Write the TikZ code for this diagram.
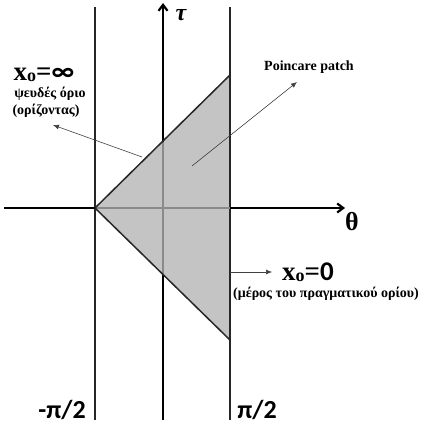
\documentclass[tikz,border=0pt]{standalone}
\usepackage{fontspec}
\setmainfont{Liberation Serif}
\newfontfamily\sansbold{Carlito}
\usetikzlibrary{arrows.meta,positioning}
\definecolor{patchgray}{HTML}{C4C4C4}
\definecolor{axisgray}{HTML}{8A8A8A}
\tikzset{
  boundary/.style={line width=1.5pt,draw=black!85},
  axisline/.style={-{Straight Barb[length=6pt,width=9pt]},line width=2.2pt},
  insideaxis/.style={line width=2pt,draw=axisgray},
  pointer/.style={-{Latex[length=6pt,width=5pt]},line width=0.6pt,draw=black!75},
  biglabel/.style={font=\bfseries\fontsize{27}{29}\selectfont,inner sep=0pt},
  smalllabel/.style={font=\bfseries\fontsize{14}{16}\selectfont,inner sep=0pt},
  endlabel/.style={font=\sansbold\bfseries\fontsize{26}{28}\selectfont,inner sep=0pt}
}
\newcommand{\xnought}{x\raisebox{-0.1ex}{\fontsize{18}{18}\selectfont o}}

\begin{document}
\begin{tikzpicture}[x=1pt,y=-1pt]
    \useasboundingbox (0,0) rectangle (422,427);
    % patch corners
    \coordinate (apex) at (95,208);
    \coordinate (ptop) at (230,75);
    \coordinate (pbot) at (230,340);
    \fill[patchgray] (apex) -- (ptop) -- (pbot) -- cycle;

    % boundaries of the strip
    \draw[boundary] (95,7) -- (95,420);
    \draw[boundary] (230,7) -- (230,420);

    % axes
    \draw[axisline] (163,420) -- (163,3);
    \draw[axisline] (4,208) -- (345,208);
    \draw[insideaxis] (95,208) -- (230,208);
    \draw[insideaxis] (163,142) -- (163,275);
    \draw[boundary] (apex) -- (ptop);
    \draw[boundary] (apex) -- (pbot);

    \node[font=\fontsize{24}{26}\selectfont\bfseries\itshape,inner sep=0pt] (tau) at (181,15) {τ};
    \node[font=\fontsize{26}{28}\selectfont\bfseries,inner sep=0pt] (theta) at (352,222) {θ};

    % labels
    \node[biglabel] (xinf) at (44,75) {\xnought={\sansbold ∞}};
    \node[smalllabel] (pseudo) at (50,94) {ψευδές όριο};
    \node[smalllabel] (horizon) at (46,111) {(ορίζοντας)};
    \node[smalllabel] (patch) at (309,67) {Poincare patch};
    \node[biglabel,anchor=west] (xzero) at (282,272) {\xnought={\sansbold 0}};
    \node[smalllabel] (realbdy) at (326,294) {(μέρος του πραγματικού ορίου)};
    \node[endlabel] (lpi) at (62,410) {-π/2};
    \node[endlabel] (rpi) at (257,410) {π/2};

    % pointers
    \coordinate (hstart) at (142,157);
    \coordinate (hend) at (53,125);
    \coordinate (pstart) at (192,166);
    \coordinate (pend) at (297,82);
    \coordinate (zstart) at (230,272);
    \draw[pointer] (hstart) -- (hend);
    \draw[pointer] (pstart) -- (pend);
    \draw[pointer,shorten >=10pt] (zstart) -- (xzero.west);
\end{tikzpicture}
\end{document}
